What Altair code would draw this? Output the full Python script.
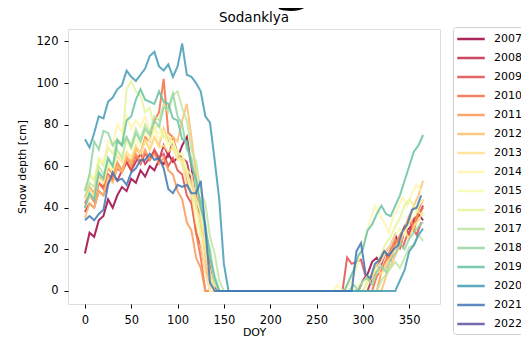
import altair as alt
import pandas as pd

YEARS = [str(y) for y in range(2007, 2023)]
COLORS = ["#9e0142", "#c32a4b", "#df4e4b", "#f46d43", "#fa9857", "#fdbf6f",
          "#fee08b", "#fff5ae", "#f7fcb2", "#e6f598", "#bfe5a0", "#94d4a4",
          "#66c2a5", "#439bb5", "#4175b4", "#5e4fa2"]

# Spring snow depth (cm), one value every 5 days starting at DOY 0
SPRING = {
    "2007": [18, 28, 26, 34, 36, 44, 40, 46, 50, 48, 54, 52, 58, 55, 60, 58, 63, 61, 66, 62, 64, 70, 74, 60, 42, 34, 20, 14, 2, 0],
    "2008": [38, 42, 40, 48, 46, 52, 56, 53, 58, 62, 58, 62, 66, 61, 64, 67, 63, 70, 65, 72, 66, 64, 62, 52, 46, 33, 24, 10, 0],
    "2009": [42, 46, 44, 52, 50, 56, 53, 59, 57, 62, 58, 65, 61, 66, 63, 68, 64, 66, 60, 64, 58, 56, 46, 42, 28, 22, 10, 0],
    "2010": [40, 46, 43, 52, 49, 56, 54, 61, 58, 64, 62, 69, 66, 74, 72, 82, 86, 102, 76, 74, 66, 62, 52, 46, 28, 16, 0],
    "2011": [45, 50, 47, 55, 52, 59, 56, 62, 58, 64, 60, 66, 62, 68, 63, 66, 61, 64, 58, 56, 48, 44, 33, 29, 16, 11, 0],
    "2012": [35, 42, 40, 48, 46, 55, 52, 60, 57, 65, 62, 68, 66, 73, 68, 74, 70, 78, 72, 74, 72, 82, 90, 74, 56, 33, 16, 0],
    "2013": [44, 49, 46, 56, 54, 60, 58, 65, 62, 67, 64, 70, 66, 72, 68, 74, 69, 70, 67, 69, 63, 64, 56, 52, 40, 34, 18, 9, 0],
    "2014": [48, 56, 54, 64, 62, 72, 70, 80, 76, 84, 78, 82, 79, 84, 77, 78, 73, 76, 70, 72, 64, 62, 50, 47, 33, 24, 9, 0],
    "2015": [40, 46, 44, 54, 52, 61, 58, 67, 64, 72, 68, 73, 70, 77, 72, 78, 76, 77, 70, 72, 66, 66, 58, 56, 44, 38, 24, 16, 3, 0],
    "2016": [48, 56, 53, 63, 60, 69, 66, 73, 70, 97, 101, 96, 94, 86, 88, 78, 80, 74, 75, 68, 68, 60, 58, 46, 42, 28, 22, 9, 0],
    "2017": [45, 52, 50, 60, 56, 63, 60, 68, 64, 74, 70, 78, 73, 80, 76, 84, 82, 90, 86, 94, 96, 88, 82, 68, 62, 48, 42, 26, 18, 5, 0],
    "2018": [48, 56, 72, 68, 77, 76, 70, 73, 70, 74, 69, 76, 72, 78, 75, 82, 79, 88, 88, 95, 84, 80, 68, 64, 50, 44, 28, 20, 5, 0],
    "2019": [40, 47, 44, 57, 54, 64, 60, 72, 70, 82, 84, 92, 97, 92, 91, 90, 96, 91, 90, 83, 82, 73, 72, 60, 54, 40, 32, 16, 7, 0],
    "2020": [73, 69, 76, 84, 83, 91, 93, 97, 99, 106, 103, 101, 104, 107, 113, 115, 108, 106, 109, 103, 108, 119, 104, 103, 100, 96, 84, 81, 63, 44, 13, 0],
    "2021": [34, 36, 34, 37, 39, 51, 57, 53, 54, 51, 57, 59, 63, 63, 66, 63, 64, 59, 49, 47, 51, 50, 51, 47, 47, 53, 30, 4, 0],
}

# Autumn: first DOY of new snow, then one value every 5 days
FALL_START = {
    "2007": 295, "2008": 305, "2009": 278, "2010": 310, "2011": 315,
    "2012": 320, "2013": 300, "2014": 268, "2015": 290, "2016": 300,
    "2017": 315, "2018": 285, "2019": 280, "2020": 335, "2021": 288,
}
FALL = {
    "2007": [0, 5, 8, 14, 16, 13, 19, 22, 27, 21, 29, 30, 33, 37, 34],
    "2008": [0, 6, 10, 15, 18, 15, 23, 26, 31, 27, 35, 36, 41],
    "2009": [0, 16, 13, 14, 15, 7, 5, 11, 14, 19, 15, 21, 24, 21, 27, 31, 27, 33],
    "2010": [0, 7, 10, 15, 20, 25, 21, 29, 34, 29, 37, 40],
    "2011": [0, 9, 12, 19, 22, 27, 30, 36, 31, 39, 44],
    "2012": [0, 7, 12, 17, 22, 29, 34, 41, 46, 53],
    "2013": [0, 4, 6, 11, 8, 13, 16, 21, 24, 29, 25, 31, 34, 38],
    "2014": [0, 3, 0, 1, 5, 11, 19, 27, 34, 41, 37, 33, 28, 36, 40, 45, 41, 47, 51, 48],
    "2015": [0, 3, 4, 7, 8, 11, 14, 19, 22, 27, 30, 27, 33, 36, 41, 44],
    "2016": [0, 5, 8, 13, 18, 23, 26, 31, 35, 41, 44, 41, 38, 36],
    "2017": [0, 5, 8, 11, 14, 11, 16, 21, 22, 27, 24],
    "2018": [0, 3, 0, 5, 6, 3, 9, 12, 9, 15, 18, 23, 20, 25, 28, 31, 33],
    "2019": [0, 5, 10, 17, 20, 29, 32, 37, 41, 37, 36, 41, 46, 53, 60, 67, 70, 75],
    "2020": [0, 5, 10, 19, 22, 27, 30],
    "2021": [0, 19, 23, 8, 6, 13, 15, 19, 17, 20, 22, 29, 32, 39, 40, 46],
}

X_TICKS = [0, 50, 100, 150, 200, 250, 300, 350]
Y_TICKS = [0, 20, 40, 60, 80, 100, 120]
TITLE = "Sodanklya"
HEADING_FRAGMENT = "g"

rows = []
for yr in YEARS:
    if yr not in SPRING:
        continue
    for i, v in enumerate(SPRING[yr]):
        rows.append({"year": yr, "doy": 5 * i, "depth": v})
    s = FALL_START[yr]
    for i, v in enumerate(FALL[yr]):
        rows.append({"year": yr, "doy": s + 5 * i, "depth": v})
df = pd.DataFrame(rows)

FONT = "DejaVu Sans"

lines = alt.Chart(df).mark_line(strokeWidth=2, opacity=0.85).encode(
    x=alt.X("doy:Q", scale=alt.Scale(domain=[-18.25, 383.25], nice=False, zero=False),
            axis=alt.Axis(values=X_TICKS, title="DOY", grid=False, domain=False,
                          tickSize=4, tickColor="#000", labelPadding=6,
                          labelFontSize=11.5, titleFontSize=11, titleFontWeight="normal",
                          labelColor="#000", titleColor="#000", titlePadding=1,
                          labelFont=FONT, titleFont=FONT)),
    y=alt.Y("depth:Q", scale=alt.Scale(domain=[-6.3, 126], nice=False, zero=False),
            axis=alt.Axis(values=Y_TICKS, title="Snow depth [cm]", grid=False, domain=False,
                          tickSize=4, tickColor="#000", labelPadding=6,
                          labelFontSize=11.5, titleFontSize=11, titleFontWeight="normal",
                          labelColor="#000", titleColor="#000", titlePadding=9,
                          labelFont=FONT, titleFont=FONT)),
    color=alt.Color("year:N", scale=alt.Scale(domain=YEARS, range=COLORS),
                    legend=alt.Legend(title=None, orient="none", legendX=385, legendY=-2,
                                      symbolType="M-2.5,0H2.5", symbolSize=121,
                                      symbolStrokeWidth=2.5, symbolOffset=6,
                                      labelOffset=16, rowPadding=7, padding=5,
                                      strokeColor="#d0d0d0", cornerRadius=3,
                                      fillColor="#ffffff", labelFont=FONT,
                                      labelFontSize=11, labelColor="#000")),
    order=alt.Order("doy:Q"),
)

# plot title
title = alt.Chart(pd.DataFrame({"t": [TITLE]})).mark_text(
    font=FONT, fontSize=13.5, color="#000", baseline="alphabetic", align="center"
).encode(text="t:N", x=alt.value(186), y=alt.value(-7))

chart = alt.layer(lines, title).properties(
    width=372, height=275,
    # fragment of a large heading that is cut off at the top of the figure
    title=alt.TitleParams(HEADING_FRAGMENT, font=FONT, fontSize=62, fontWeight="bold",
                          color="#000", frame="group", anchor="middle", dx=40, offset=0),
    padding={"left": 60, "top": 21, "right": 81, "bottom": 37},
    autosize=alt.AutoSizeParams(type="none"),
).configure_view(stroke="#000", strokeWidth=1).configure(background="white")

chart.save("out.html", embed_options={"renderer": "svg", "actions": False})
